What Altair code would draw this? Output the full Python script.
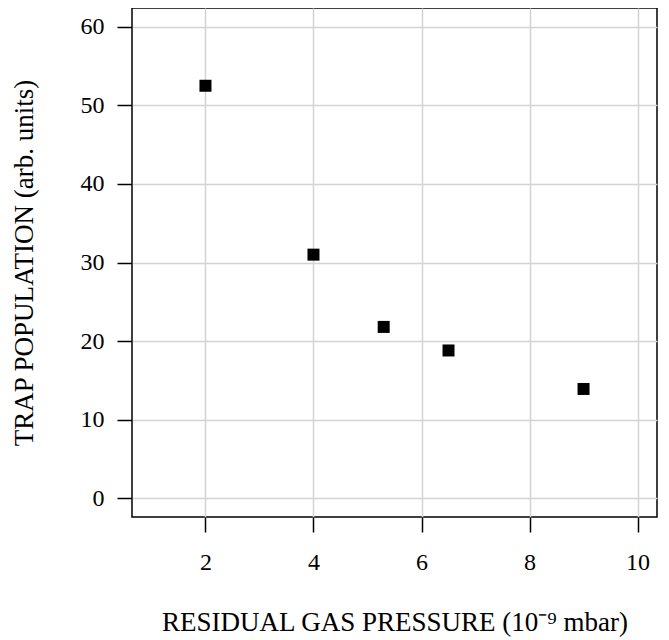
import altair as alt
import pandas as pd

pressure = [2.0, 4.0, 5.3, 6.5, 9.0]
population = [52.5, 31.0, 21.8, 18.8, 13.9]
x_ticks = [2, 4, 6, 8, 10]
y_ticks = [0, 10, 20, 30, 40, 50, 60]

df = pd.DataFrame({"pressure": pressure, "population": population})

FONT = "Liberation Serif"

chart = alt.Chart(df).mark_square(size=144, color="black", opacity=1, filled=True).encode(
    x=alt.X("pressure:Q",
            scale=alt.Scale(domain=[0.64, 10.36], nice=False, zero=False),
            axis=alt.Axis(values=x_ticks, title="RESIDUAL GAS PRESSURE (10\u207b\u2079 mbar)",
                          titlePadding=35, labelPadding=18)),
    y=alt.Y("population:Q",
            scale=alt.Scale(domain=[-2.4, 62.4], nice=False, zero=False),
            axis=alt.Axis(values=y_ticks, title="TRAP POPULATION (arb. units)",
                          titlePadding=42, labelPadding=13)),
).properties(
    width=525, height=509,
    autosize=alt.AutoSizeParams(type="none"),
    padding={"left": 124, "top": 0, "right": 4, "bottom": 120},
).configure_view(
    stroke="black", strokeWidth=1.5
).configure_axis(
    domain=False,
    grid=True, gridColor="#d3d3d3", gridWidth=1.5,
    ticks=True, tickColor="black", tickSize=15, tickWidth=1.5,
    labelFont=FONT, labelFontSize=24, labelColor="black",
    titleFont=FONT, titleFontSize=27, titleFontWeight="normal", titleColor="black",
)

chart.save("out.html", embed_options={"renderer": "svg", "actions": False})
